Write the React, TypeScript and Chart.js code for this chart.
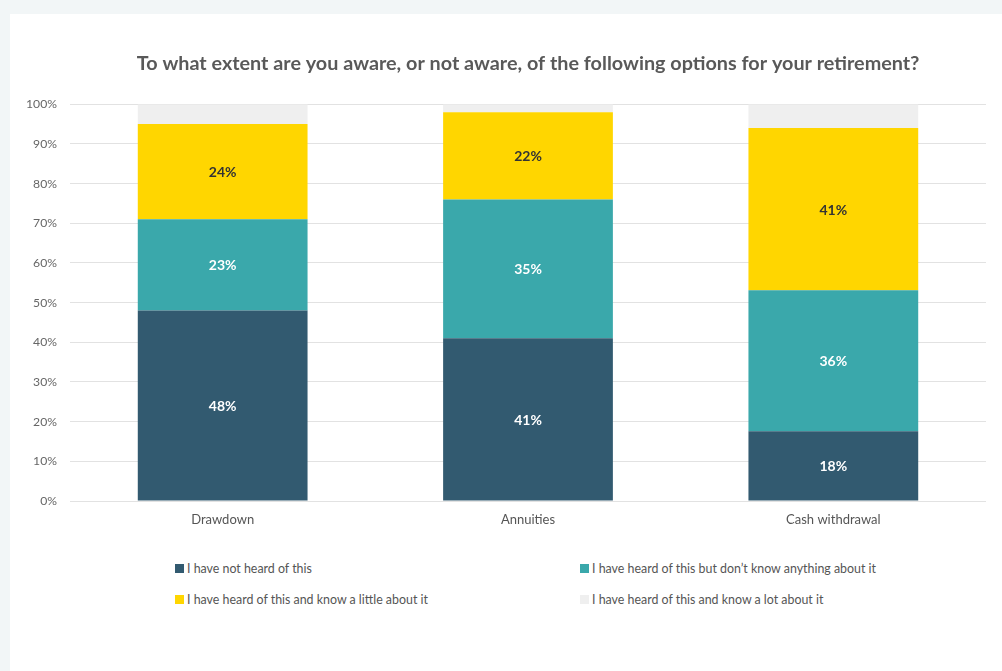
import React, { useEffect, useRef } from "react";
import { Chart, registerables } from "chart.js";

Chart.register(...registerables);

const FONT = "Lato, 'Open Sans', sans-serif";

const categories = ["Drawdown", "Annuities", "Cash withdrawal"];
const seriesNames = [
  "I have not heard of this",
  "I have heard of this but don\u2019t know anything about it",
  "I have heard of this and know a little about it",
  "I have heard of this and know a lot about it",
];
const notHeard = [48, 41, 17.6];
const heardNoKnowledge = [23, 35, 35.5];
const knowLittle = [24, 22, 40.9];
const knowLot = [5, 2, 6];
const seriesColors = ["#325a70", "#3aa8ab", "#ffd600", "#efefef"];
const labelColors = ["#ffffff", "#ffffff", "#333333", null];
const yTicks = [0, 10, 20, 30, 40, 50, 60, 70, 80, 90, 100];
const titleText =
  "To what extent are you aware, or not aware, of the following options for your retirement?";

const valueLabels = {
  id: "valueLabels",
  afterDatasetsDraw(chart: any) {
    const ctx = chart.ctx;
    ctx.save();
    ctx.font = `bold 14px ${FONT}`;
    ctx.textAlign = "center";
    ctx.textBaseline = "middle";
    chart.data.datasets.forEach((ds: any, di: number) => {
      const color = labelColors[di];
      if (!color) return;
      const meta = chart.getDatasetMeta(di);
      meta.data.forEach((el: any, i: number) => {
        const v = ds.data[i];
        const cy = (el.y + el.base) / 2 + 1;
        ctx.fillStyle = color;
        ctx.fillText(`${Math.round(v)}%`, el.x, cy);
      });
    });
    ctx.restore();
  },
};

export default function App() {
  const ref = useRef<HTMLCanvasElement>(null);

  useEffect(() => {
    if (!ref.current) return;
    const seriesData = [notHeard, heardNoKnowledge, knowLittle, knowLot];
    const chart = new Chart(ref.current, {
      type: "bar",
      data: {
        labels: categories,
        datasets: seriesData.map((d, i) => ({
          label: seriesNames[i],
          data: d,
          backgroundColor: seriesColors[i],
          borderWidth: 0,
          barPercentage: 0.556,
          categoryPercentage: 1,
        })),
      },
      options: {
        responsive: false,
        animation: false,
        layout: { padding: { left: 0, right: 16, top: 0, bottom: 0 } },
        plugins: {
          legend: { display: false },
          tooltip: { enabled: false },
          title: {
            display: true,
            text: titleText,
            fullSize: false,
            color: "#595959",
            font: { family: FONT, size: 19.8, weight: "bold" },
            padding: { top: 38, bottom: 28.5 },
          },
        },
        scales: {
          x: {
            stacked: true,
            grid: { display: false, drawTicks: false },
            border: { display: false },
            ticks: {
              color: "#555",
              font: { family: FONT, size: 13 },
              padding: 11,
            },
            afterFit: (s: any) => {
              s.height = 33;
            },
          },
          y: {
            stacked: true,
            min: 0,
            max: 100,
            grid: { color: "#e2e2e2", drawTicks: false },
            border: { display: false },
            afterBuildTicks: (s: any) => {
              s.ticks = yTicks.map((v) => ({ value: v }));
            },
            ticks: {
              color: "#666",
              font: { family: FONT, size: 12.2 },
              padding: 13,
              callback: (v: any) => `${v}%`,
            },
            afterFit: (s: any) => {
              s.width = 60;
            },
          },
        },
      },
      plugins: [valueLabels],
    });
    return () => chart.destroy();
  }, []);

  return (
    <div
      style={{
        position: "fixed",
        inset: 0,
        background: "#f2f6f7",
        fontFamily: FONT,
        overflow: "hidden",
      }}
    >
      <div
        style={{
          position: "absolute",
          left: 10,
          top: 14,
          width: 992,
          height: 657,
          background: "#ffffff",
        }}
      >
        <canvas
          ref={ref}
          width={992}
          height={520}
          style={{ display: "block", width: 992, height: 520 }}
        />
        {seriesNames.map((name, i) => {
          const col = i % 2;
          const row = Math.floor(i / 2);
          return (
            <div
              key={name}
              style={{
                position: "absolute",
                left: col === 0 ? 165 : 570,
                top: row === 0 ? 545 : 576,
                height: 18,
                display: "flex",
                alignItems: "center",
                whiteSpace: "nowrap",
                fontSize: 12.4,
                color: "#555",
              }}
            >
              <span
                style={{
                  display: "inline-block",
                  width: 9,
                  height: 9,
                  background: seriesColors[i],
                  marginRight: 3,
                }}
              />
              <span>{name}</span>
            </div>
          );
        })}
      </div>
    </div>
  );
}
